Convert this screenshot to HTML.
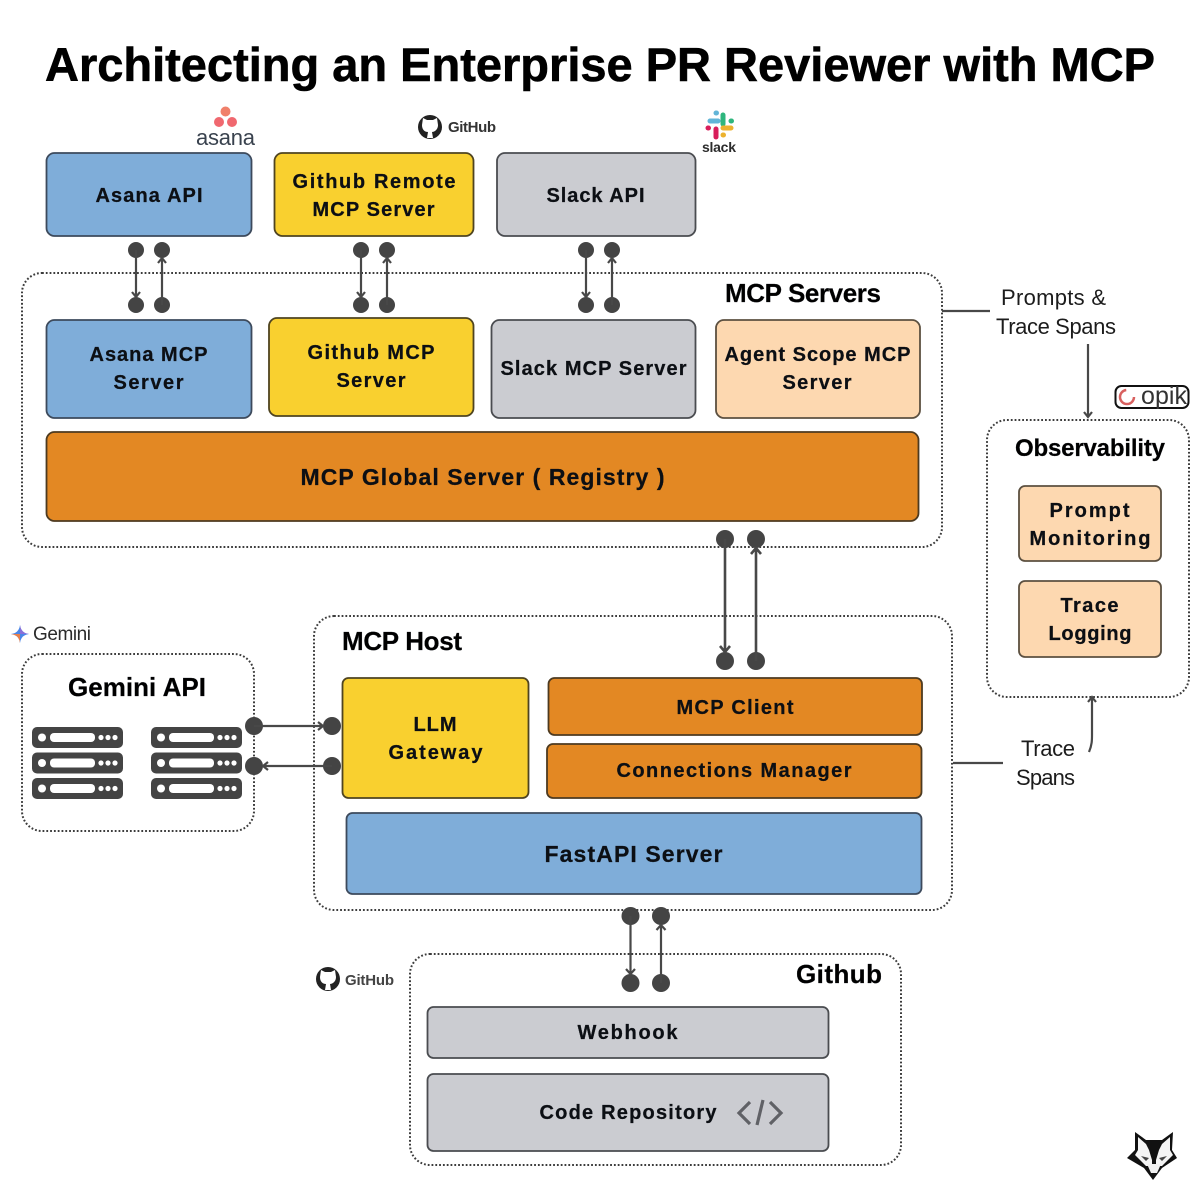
<!DOCTYPE html>
<html>
<head>
<meta charset="utf-8">
<title>Architecting an Enterprise PR Reviewer with MCP</title>
<style>
html,body{margin:0;padding:0;background:#fff}
svg{display:block}
text{font-family:"Liberation Sans",sans-serif;font-weight:700;fill:#0c0f14;stroke:#0c0f14;stroke-width:.25px}
.r{font-weight:400;fill:#1c1c1c;font-size:22px;stroke:none}
.h{font-size:26px;fill:#000}
.b{font-size:20px}
.n{stroke:none}
.c{fill:none;stroke:#3c3c3c;stroke-width:2;stroke-dasharray:1.8 2}
.d{fill:#444}
.a{stroke:#484848;stroke-width:2.200;fill:none}
.bl{fill:#7fadd9;stroke:#3d4a5c;stroke-width:1.800}
.ye{fill:#f9d02f;stroke:#4f4420;stroke-width:1.800}
.gr{fill:#cbccd1;stroke:#4a4c50;stroke-width:1.800}
.pe{fill:#fdd8b0;stroke:#5c5040;stroke-width:1.800}
.or{fill:#e38823;stroke:#4d3a20;stroke-width:1.800}
</style>
</head>
<body>
<svg width="1200" height="1200" viewBox="0 0 1200 1200" xmlns="http://www.w3.org/2000/svg">
<defs>
<g id="srv">
<rect x="0" y="0" width="91" height="21" rx="5" fill="#444"/>
<circle cx="10" cy="10.5" r="4" fill="#fff"/>
<rect x="18" y="6" width="45" height="9" rx="4" fill="#fff"/>
<circle cx="69" cy="10.5" r="2.6" fill="#fff"/><circle cx="76" cy="10.5" r="2.6" fill="#fff"/><circle cx="83" cy="10.5" r="2.6" fill="#fff"/>
</g>
<g id="gh">
<circle cx="0" cy="0" r="12" fill="#222"/>
<path d="M-7 -9 L-3 -7 H3 L7 -9 L8 -2 C8 3 4 5 2 5 L3 11 H-3 L-2 5 C-5 5 -8 3 -8 -2 Z" fill="#fff"/>
<path d="M-3 12 L-3 7 C-6 8 -8 6 -9 4 L-6 5 L-3 5 Z" fill="#222"/>
</g>
</defs>
<rect width="1200" height="1200" fill="#fff"/>

<text x="45" y="81" font-size="47" textLength="1110" lengthAdjust="spacing" style="fill:#000;stroke:#000;stroke-width:.6px">Architecting an Enterprise PR Reviewer with MCP</text>

<!-- containers -->
<rect class="c" x="22" y="273" width="920" height="274" rx="20"/>
<rect class="c" x="987" y="420" width="202" height="277" rx="20"/>
<rect class="c" x="314" y="616" width="638" height="294" rx="20"/>
<rect class="c" x="22" y="654" width="232" height="177" rx="20"/>
<rect class="c" x="410" y="954" width="491" height="211" rx="20"/>

<!-- top row -->
<rect class="bl" x="46.500" y="153" width="205" height="83" rx="8"/>
<rect class="ye" x="274.500" y="153" width="199" height="83" rx="8"/>
<rect class="gr" x="497" y="153" width="198.500" height="83" rx="8"/>
<text class="b" x="95.500" y="202" textLength="107">Asana API</text>
<text class="b" x="292.500" y="188" textLength="163">Github Remote</text>
<text class="b" x="312.500" y="216" textLength="122">MCP Server</text>
<text class="b" x="546.500" y="202" textLength="98">Slack API</text>

<!-- MCP servers -->
<text class="h" x="725" y="302" textLength="156">MCP Servers</text>
<rect class="bl" x="46.500" y="320" width="205" height="98" rx="8"/>
<rect class="ye" x="269" y="318" width="204.500" height="98" rx="8"/>
<rect class="gr" x="491.500" y="320" width="204" height="98" rx="8"/>
<rect class="pe" x="716" y="320" width="204" height="98" rx="8"/>
<rect class="or" x="46.500" y="432" width="872" height="89" rx="8"/>
<text class="b" x="89.500" y="361" textLength="118">Asana MCP</text>
<text class="b" x="113.500" y="389" textLength="70">Server</text>
<text class="b" x="307.500" y="359" textLength="127">Github MCP</text>
<text class="b" x="336.500" y="387" textLength="69">Server</text>
<text class="b" x="500.500" y="375" textLength="186">Slack MCP Server</text>
<text class="b" x="724.500" y="361" textLength="186">Agent Scope MCP</text>
<text class="b" x="782.500" y="389" textLength="69">Server</text>
<text x="300.500" y="485" font-size="23" textLength="364">MCP Global Server ( Registry )</text>

<!-- observability -->
<text x="1015" y="456" font-size="24" textLength="150" style="fill:#000">Observability</text>
<rect class="pe" x="1019" y="486" width="142" height="75" rx="6"/>
<rect class="pe" x="1019" y="581" width="142" height="76" rx="6"/>
<text class="b" x="1049.500" y="517" textLength="80">Prompt</text>
<text class="b" x="1029.500" y="545" textLength="121">Monitoring</text>
<text class="b" x="1060.500" y="612" textLength="58">Trace</text>
<text class="b" x="1048.500" y="640" textLength="83">Logging</text>

<!-- host -->
<text class="h" x="342" y="650" textLength="120">MCP Host</text>
<rect class="ye" x="342.500" y="678" width="186" height="120" rx="6"/>
<rect class="or" x="548.500" y="678" width="373.500" height="57" rx="6"/>
<rect class="or" x="547" y="744" width="374.500" height="54" rx="6"/>
<rect class="bl" x="346.500" y="813" width="575" height="81" rx="6"/>
<text class="b" x="413.500" y="731" textLength="43">LLM</text>
<text class="b" x="388.500" y="759" textLength="94">Gateway</text>
<text class="b" x="676.500" y="714" textLength="117">MCP Client</text>
<text class="b" x="616.500" y="777" textLength="235">Connections Manager</text>
<text x="544.500" y="862" font-size="23" textLength="178">FastAPI Server</text>

<!-- gemini -->
<text class="h" x="68" y="696" textLength="138">Gemini API</text>
<use href="#srv" x="32" y="727"/><use href="#srv" x="32" y="752.500"/><use href="#srv" x="32" y="778"/>
<use href="#srv" x="151" y="727"/><use href="#srv" x="151" y="752.500"/><use href="#srv" x="151" y="778"/>

<!-- github -->
<text class="h" x="796" y="983" textLength="86">Github</text>
<rect class="gr" x="427.500" y="1007" width="401" height="51" rx="6"/>
<rect class="gr" x="427.500" y="1074" width="401" height="77" rx="6"/>
<text class="b" x="577.500" y="1039" textLength="100">Webhook</text>
<text class="b" x="539.500" y="1119" textLength="177">Code Repository</text>
<path d="M750 1102 L739 1113 L750 1124 M770 1102 L781 1113 L770 1124 M763 1100 L757 1125" fill="none" stroke="#606166" stroke-width="3.200"/>

<!-- connectors -->
<g class="d">
<circle cx="136" cy="250" r="8"/><circle cx="162" cy="250" r="8"/><circle cx="136" cy="305" r="8"/><circle cx="162" cy="305" r="8"/>
<circle cx="361" cy="250" r="8"/><circle cx="387" cy="250" r="8"/><circle cx="361" cy="305" r="8"/><circle cx="387" cy="305" r="8"/>
<circle cx="586" cy="250" r="8"/><circle cx="612" cy="250" r="8"/><circle cx="586" cy="305" r="8"/><circle cx="612" cy="305" r="8"/>
<circle cx="725" cy="539" r="9"/><circle cx="756" cy="539" r="9"/><circle cx="725" cy="661" r="9"/><circle cx="756" cy="661" r="9"/>
<circle cx="254" cy="726" r="9"/><circle cx="254" cy="766" r="9"/><circle cx="332" cy="726" r="9"/><circle cx="332" cy="766" r="9"/>
<circle cx="630.500" cy="916" r="9"/><circle cx="661" cy="916" r="9"/><circle cx="630.500" cy="983" r="9"/><circle cx="661" cy="983" r="9"/>
</g>
<g class="a">
<path d="M136 250 V297 M132 292 L136 297 L140 292"/>
<path d="M162 305 V258 M158 263 L162 258 L166 263"/>
<path d="M361 250 V297 M357 292 L361 297 L365 292"/>
<path d="M387 305 V258 M383 263 L387 258 L391 263"/>
<path d="M586 250 V297 M582 292 L586 297 L590 292"/>
<path d="M612 305 V258 M608 263 L612 258 L616 263"/>
<path d="M725 539 V652 M720 646 L725 652 L730 646" stroke-width="2.600"/>
<path d="M756 661 V548 M751 554 L756 548 L761 554" stroke-width="2.600"/>
<path d="M254 726 H323 M318 722 L323 726 L318 730"/>
<path d="M332 766 H263 M268 762 L263 766 L268 770"/>
<path d="M630.500 916 V974 M626 969 L630.500 974 L635 969"/>
<path d="M661 983 V925 M656.500 930 L661 925 L665.500 930"/>
<path d="M942 311 H990"/>
<path d="M1088 344 V417 M1084 412 L1088 417 L1092 412"/>
<path d="M953 763 H1003"/>
<path d="M1089 752 C1092 745 1092 740 1092 735 V697 M1088 702 L1092 697 L1096 702"/>
</g>

<!-- side labels -->
<text class="r" x="1001" y="305" textLength="105">Prompts &amp;</text>
<text class="r" x="996" y="334" textLength="120">Trace Spans</text>
<text class="r" x="1021" y="756" textLength="54">Trace</text>
<text class="r" x="1016" y="785" textLength="59">Spans</text>

<!-- asana logo -->
<circle cx="225.500" cy="111.500" r="5" fill="#f0806a"/>
<circle cx="219" cy="122" r="5" fill="#f0686f"/>
<circle cx="232" cy="122" r="5" fill="#f0686f"/>
<text class="n" x="196" y="145" font-size="22" textLength="59" style="font-weight:400;fill:#39424e">asana</text>

<!-- github logos -->
<use href="#gh" x="430" y="127"/>
<text class="n" x="448" y="132" font-size="15" textLength="48" style="fill:#333">GitHub</text>
<use href="#gh" x="328" y="979"/>
<text class="n" x="345" y="985" font-size="15" textLength="49" style="fill:#444">GitHub</text>

<!-- slack logo -->
<g fill="none" stroke-linecap="round" stroke-width="5">
<path d="M723 115 V124" stroke="#2eb67d"/><path d="M731 121 H731.500" stroke="#2eb67d"/>
<path d="M710 121 H718" stroke="#62b5d8"/><path d="M716 113 H716.500" stroke="#62b5d8"/>
<path d="M716 129 V137" stroke="#d81e5b"/><path d="M708 128 H708.500" stroke="#d81e5b"/>
<path d="M723 128 H731" stroke="#ecb22e"/><path d="M723 135 H723.500" stroke="#ecb22e"/>
</g>
<text class="n" x="702" y="152" font-size="14" textLength="34" style="fill:#2c2c2c">slack</text>

<!-- opik logo -->
<rect x="1115.500" y="386" width="73" height="22" rx="6" fill="#fff" stroke="#111" stroke-width="2"/>
<circle cx="1127" cy="397" r="7" fill="none" stroke="#d8605f" stroke-width="2.500" stroke-dasharray="32 12"/>
<text class="n" x="1141" y="404" font-size="25" textLength="46" style="font-weight:400;fill:#333">opik</text>

<!-- gemini logo -->
<path d="M20 625 Q21 633 29 634 Q21 635 20 643 Q19 635 11 634 Q19 633 20 625Z" fill="#4a86e8"/>
<path d="M20 625 Q21 633 29 634 L20 634Z" fill="#8a6fd8"/>
<path d="M11 634 Q19 635 20 643 L20 634Z" fill="#e8804a"/>
<text class="n" x="33" y="640" font-size="19" textLength="58" style="font-weight:400;fill:#2b2b2b">Gemini</text>

<!-- cat logo -->
<path d="M1135 1132 L1146 1140 H1162 L1173 1132 L1172 1150 L1177 1158 L1162 1168 L1153 1180 L1144 1168 L1127 1158 L1135 1150Z" fill="#111"/>
<path d="M1138 1137 L1146 1144 L1149 1150 L1152 1160 L1152 1166 L1146 1166 L1135 1155 L1138 1150Z M1170 1137 L1162 1144 L1159 1150 L1156 1160 L1156 1166 L1162 1166 L1173 1155 L1170 1150Z" fill="#f4f4f4"/>
<path d="M1147 1164 H1161 L1157 1173 H1151Z" fill="#f0f0f0"/>
<path d="M1141 1156 L1149 1158 L1146 1161Z M1167 1156 L1159 1158 L1162 1161Z" fill="#444"/>
</svg>
</body>
</html>
